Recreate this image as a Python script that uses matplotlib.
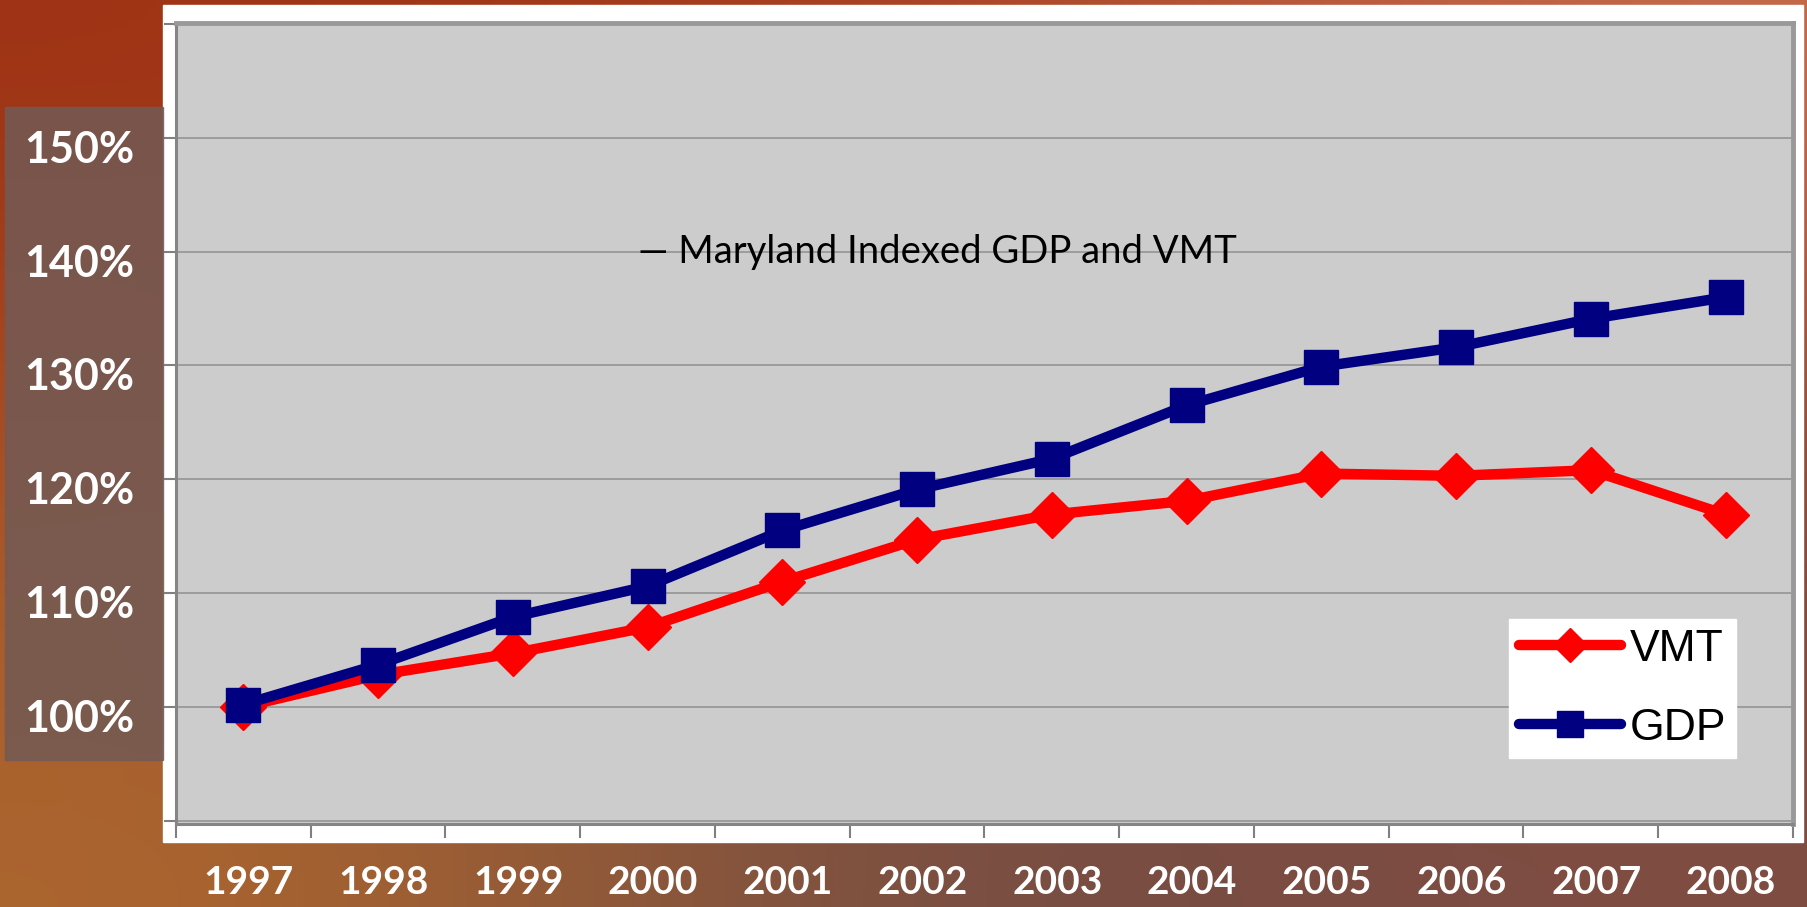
import numpy as np
import matplotlib
matplotlib.use("Agg")
import matplotlib.pyplot as plt
from matplotlib.patches import Rectangle
from matplotlib.transforms import blended_transform_factory

# %% data (percent of 1997 level)
years = ['1997', '1998', '1999', '2000', '2001', '2002',
         '2003', '2004', '2005', '2006', '2007', '2008']
vmt = [100.0, 102.8, 104.7, 107.0, 111.0, 114.7,
       116.9, 118.1, 120.5, 120.3, 120.8, 116.9]
gdp = [100.2, 103.7, 107.9, 110.6, 115.5, 119.1,
       121.8, 126.5, 129.9, 131.6, 134.1, 136.0]
y_ticks = [100, 110, 120, 130, 140, 150]
title = '\u2014 Maryland Indexed GDP and VMT'

W, H = 1808, 907
fig = plt.figure(figsize=(W / 100, H / 100), dpi=100)

# %% slide background (smooth stand-in for the photo)
bg = fig.add_axes([0, 0, 1, 1], zorder=-10)
bg_cols = np.array([
    [[0.62, 0.20, 0.08], [0.66, 0.24, 0.12], [0.78, 0.42, 0.30]],
    [[0.66, 0.32, 0.14], [0.50, 0.30, 0.26], [0.55, 0.28, 0.20]],
    [[0.68, 0.40, 0.18], [0.44, 0.30, 0.27], [0.50, 0.30, 0.26]],
])
bg.imshow(bg_cols, extent=[0, 1, 0, 1], aspect='auto', interpolation='bicubic')
bg.set_xlim(0, 1)
bg.set_ylim(0, 1)
bg.axis('off')

# white chart panel
fig.patches.append(Rectangle((163 / W, 1 - 842 / H), (1803 - 163) / W, (842 - 5) / H,
                             transform=fig.transFigure, color='white', zorder=-5))
# translucent box behind y labels
fig.patches.append(Rectangle((5 / W, 1 - 760 / H), (163 - 5) / W, (760 - 107) / H,
                             transform=fig.transFigure, color='#735a55', alpha=0.85,
                             zorder=-5))

# %% chart
ax = fig.add_axes([176 / W, 1 - 824 / H, (1793 - 176) / W, (824 - 23) / H])
ax.set_facecolor('#cccccc')
x = np.arange(len(years))

ax.plot(x, vmt, color='#ff0000', lw=7.5, marker='D', ms=23,
        solid_joinstyle='round', solid_capstyle='round', label='VMT', zorder=3)
ax.plot(x, gdp, color='#000080', lw=7.5, marker='s', ms=24.5,
        solid_joinstyle='round', solid_capstyle='round', label='GDP', zorder=4)

ax.set_xlim(-0.5, len(years) - 0.5)
ax.set_ylim(89.7, 160.1)
ax.set_yticks(np.arange(90, 161, 10))
ax.set_yticklabels([])
ax.set_xticks(np.arange(-0.5, len(years), 1))
ax.set_xticklabels([])
ax.tick_params(axis='both', direction='out', color='#808080', width=1.5)
ax.tick_params(axis='x', length=10)
ax.tick_params(axis='y', length=9)
ax.grid(axis='y', color='#9c9c9c', lw=1.4)
ax.set_axisbelow(True)
for side in ['left', 'bottom']:
    ax.spines[side].set_color('#858585')
    ax.spines[side].set_linewidth(2.2)
for side in ['top', 'right']:
    ax.spines[side].set_color('#999999')
    ax.spines[side].set_linewidth(3.5)

ax.text(638 / W, 140, title, transform=blended_transform_factory(fig.transFigure, ax.transData),
        fontsize=27.5, family='Lato', va='center', ha='left', color='black')

# slide labels
ty = blended_transform_factory(fig.transFigure, ax.transData)
for v in y_ticks:
    ax.text(79 / W, v - 1.05, f'{v}%', transform=ty, ha='center', va='center',
            fontsize=31, family='Lato', fontweight='bold', color='white', clip_on=False)
tx = blended_transform_factory(ax.transData, fig.transFigure)
for i, lab in enumerate(years):
    ax.text(i + 0.04, 1 - 882 / H, lab, transform=tx, ha='center', va='center',
            fontsize=28, family='Lato', fontweight='bold', color='white', clip_on=False)

leg = ax.legend(loc='upper left', bbox_to_anchor=(1509 / W, 1 - 619 / H),
                bbox_transform=fig.transFigure, borderaxespad=0,
                prop={'family': 'Liberation Sans', 'size': 32},
                frameon=True, fancybox=False, framealpha=1, facecolor='white',
                edgecolor='white', handlelength=2.3, handletextpad=0.2,
                labelspacing=0.85, borderpad=0.22, markerscale=0.75)

fig.savefig('out.png', dpi=100)
